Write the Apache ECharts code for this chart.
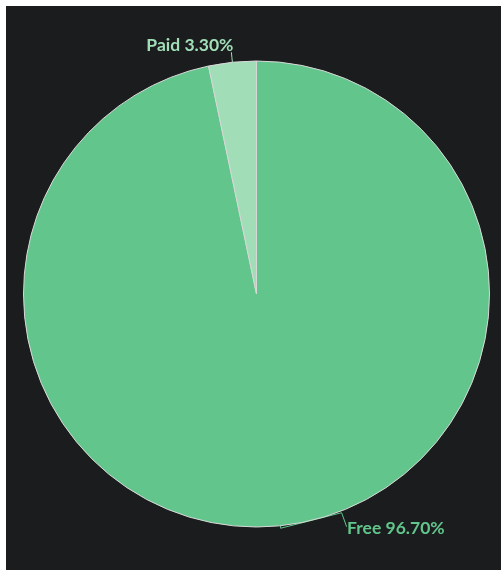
<!DOCTYPE html>
<html>
<head>
<meta charset="utf-8">
<script src="https://cdn.jsdelivr.net/npm/echarts@6/dist/echarts.min.js"></script>
<style>
html,body{margin:0;padding:0;background:#ffffff;overflow:hidden;}
#chart{position:absolute;left:6px;top:6px;width:501px;height:576px;background:#1b1c1e;}
</style>
</head>
<body>
<div id="chart"></div>
<script>
const categories = ['Free', 'Paid'];
const values = [96.7, 3.3];
const colors = ['#62c58b', '#a1deb8'];

const chart = echarts.init(document.getElementById('chart'));
chart.setOption({
  backgroundColor: '#1b1c1e',
  animation: false,
  series: [{
    type: 'pie',
    center: ['50%', '50%'],
    radius: 233,
    startAngle: 90,
    clockwise: true,
    data: categories.map((c, i) => ({
      name: c, value: values[i],
      itemStyle: { color: colors[i] },
      label: { color: colors[i] },
      labelLine: { lineStyle: { color: colors[i] } }
    })),
    itemStyle: { borderColor: '#d8d8d8', borderWidth: 1 },
    label: {
      show: true,
      fontFamily: 'Lato',
      fontWeight: 'bold',
      fontSize: 17.5,
      formatter: p => p.name + ' ' + p.percent.toFixed(2) + '%'
    },
    labelLine: { show: true, length: 12, length2: 12, lineStyle: { width: 1 } },
    labelLayout: function (p) {
      const e = p.labelLinePoints ? p.labelLinePoints[0] : null;
      if (!e) return {};
      if (p.dataIndex === 1) {
        return {
          x: e[0] + 1, y: e[1] - 17, align: 'right', verticalAlign: 'middle',
          labelLinePoints: [[e[0], e[1]], [e[0] - 0.5, e[1] - 5], [e[0] - 1, e[1] - 10]]
        };
      }
      return {
        x: e[0] + 66.5, y: e[1] + 3, align: 'left', verticalAlign: 'middle',
        labelLinePoints: [[e[0], e[1]], [e[0], e[1] + 2.5], [e[0] + 61, e[1] - 13], [e[0] + 66, e[1] + 1]]
      };
    },
    emphasis: { disabled: true }
  }]
});
</script>
</body>
</html>
